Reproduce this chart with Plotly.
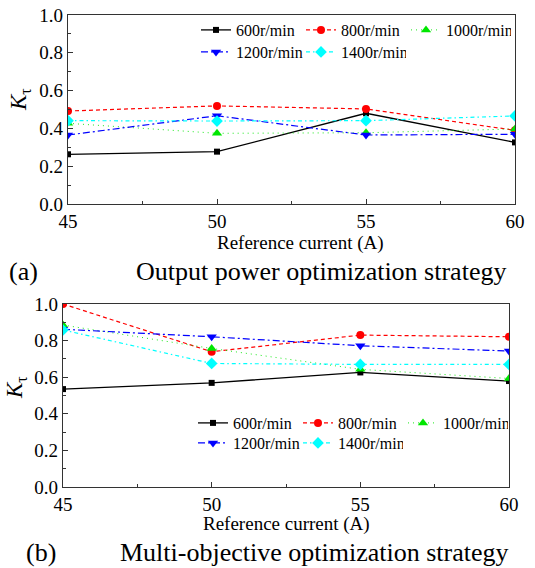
import plotly.graph_objects as go

# Reference current (A)
currents = [45, 50, 55, 60]

speed_labels = ["600r/min", "800r/min", "1000r/min", "1200r/min", "1400r/min"]

# (a) Output power optimization strategy
k_power_600 = [0.263, 0.277, 0.480, 0.326]
k_power_800 = [0.492, 0.519, 0.503, 0.390]
k_power_1000 = [0.427, 0.374, 0.377, 0.397]
k_power_1200 = [0.365, 0.467, 0.365, 0.369]
k_power_1400 = [0.441, 0.439, 0.441, 0.466]

# (b) Multi-objective optimization strategy
k_multi_600 = [0.535, 0.569, 0.626, 0.579]
k_multi_800 = [1.000, 0.739, 0.830, 0.821]
k_multi_1000 = [0.885, 0.757, 0.643, 0.593]
k_multi_1200 = [0.862, 0.821, 0.772, 0.743]
k_multi_1400 = [0.858, 0.675, 0.670, 0.670]

x_ticks = [45, 50, 55, 60]
y_ticks = [0.0, 0.2, 0.4, 0.6, 0.8, 1.0]

W, H = 535, 568
SERIF = "Liberation Serif"

styles = [
    dict(color="#000000", dash="solid", symbol="square", size=6, width=1.3),
    dict(color="#ff0000", dash="4px,3px", symbol="circle", size=8, width=1.2),
    dict(color="#00e600", dash="1px,4px", symbol="triangle-up", size=9, width=0.9),
    dict(color="#0000ff", dash="7px,3px,2px,3px", symbol="triangle-down", size=9, width=1.2),
    dict(color="#00ffff", dash="4px,3px,1.5px,3px", symbol="diamond", size=9, width=1.2),
]


def px_x(p):
    return p / W


def px_y(p):
    return 1 - p / H


fig = go.Figure()

panels = [
    ("x", "y", [k_power_600, k_power_800, k_power_1000, k_power_1200, k_power_1400],
     ["legend", "legend", "legend", "legend2", "legend2"]),
    ("x2", "y2", [k_multi_600, k_multi_800, k_multi_1000, k_multi_1200, k_multi_1400],
     ["legend3", "legend3", "legend3", "legend4", "legend4"]),
]

for xa, ya, series, legends in panels:
    for name, vals, st, lg in zip(speed_labels, series, styles, legends):
        fig.add_trace(go.Scatter(
            x=currents, y=vals, name=name, mode="lines+markers",
            xaxis=xa, yaxis=ya, legend=lg,
            line=dict(color=st["color"], dash=st["dash"], width=st["width"]),
            marker=dict(symbol=st["symbol"], size=st["size"], color=st["color"]),
        ))

axis_common = dict(
    showline=True, mirror=True, linecolor="#333333", linewidth=1.3,
    ticks="inside", ticklen=5, tickwidth=1.2, tickcolor="#333333",
    showgrid=False, zeroline=False,
    tickfont=dict(family=SERIF, size=19, color="#000000"),
)

xaxis_common = dict(axis_common, range=[45, 60], tickmode="array", tickvals=x_ticks,
                    minor=dict(ticks="inside", ticklen=3, dtick=2.5, tick0=45,
                               tickcolor="#333333", showgrid=False))
yaxis_common = dict(axis_common, range=[0, 1], tickmode="array", tickvals=y_ticks,
                    ticktext=[f"{v:.1f}" for v in y_ticks],
                    minor=dict(ticks="inside", ticklen=3, dtick=0.1, tick0=0,
                               tickcolor="#333333", showgrid=False))

legend_common = dict(orientation="h", bgcolor="rgba(0,0,0,0)", borderwidth=0,
                     font=dict(family=SERIF, size=16, color="#000000"),
                     xanchor="left", yanchor="middle", entrywidth=60,
                     itemclick=False, itemdoubleclick=False)

fig.update_layout(
    width=W, height=H,
    margin=dict(l=0, r=0, t=0, b=0, autoexpand=False),
    paper_bgcolor="white", plot_bgcolor="white",
    font=dict(family=SERIF, color="#000000"),
    xaxis=dict(xaxis_common, domain=[px_x(68), px_x(515)], anchor="y"),
    yaxis=dict(yaxis_common, domain=[px_y(204), px_y(15)], anchor="x"),
    xaxis2=dict(xaxis_common, domain=[px_x(63), px_x(509)], anchor="y2"),
    yaxis2=dict(yaxis_common, domain=[px_y(487), px_y(304)], anchor="x2"),
    legend=dict(legend_common, x=px_x(196), y=px_y(30)),
    legend2=dict(legend_common, x=px_x(196), y=px_y(52)),
    legend3=dict(legend_common, x=px_x(193), y=px_y(423)),
    legend4=dict(legend_common, x=px_x(193), y=px_y(443)),
)

text_items = [
    ("Reference current (A)", 300, 243, 19, 0),
    ("Reference current (A)", 286, 524, 19, 0),
    ("<i>K</i><sub>τ</sub>", 20, 100, 23, -90),
    ("<i>K</i><sub>τ</sub>", 16, 388, 23, -90),
    ("(a)", 24, 271, 26, 0),
    ("Output power optimization strategy", 321, 271, 26, 0),
    ("(b)", 41, 552, 26, 0),
    ("Multi-objective optimization strategy", 314, 552, 26, 0),
]
for txt, x, y, size, angle in text_items:
    fig.add_annotation(text=txt, x=px_x(x), y=px_y(y), xref="paper", yref="paper",
                       xanchor="center", yanchor="middle", showarrow=False,
                       textangle=angle, font=dict(family=SERIF, size=size, color="#000000"))

fig.write_html("out.html")
